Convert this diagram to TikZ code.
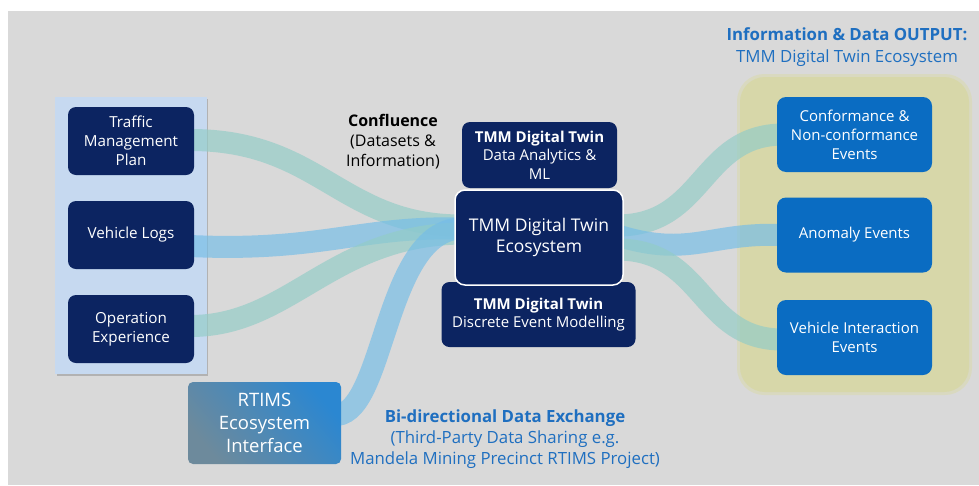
\documentclass[tikz,border=0pt]{standalone}
\usepackage{fontspec}
\setmainfont{Open Sans}
\usetikzlibrary{calc}
\definecolor{bggray}{HTML}{D9D9D9}
\definecolor{panelblue}{HTML}{C6D9F0}
\definecolor{navy}{HTML}{0C2461}
\definecolor{outblue}{HTML}{0A6CC2}
\definecolor{panelyel}{HTML}{D7D7A9}
\definecolor{panelyelsoft}{HTML}{D9D9C0}
\definecolor{titleblue}{HTML}{1F6FC0}
\definecolor{rtimsA}{HTML}{2B87D1}
\definecolor{rtimsB}{HTML}{6D8A9C}
\definecolor{flowteal}{HTML}{93CCC7}
\definecolor{flowblue}{HTML}{75BDE7}
\pgfdeclarelayer{panels}
\pgfdeclarelayer{flows}
\pgfsetlayers{panels,flows,main}
\begin{document}
\begin{tikzpicture}[x=1pt,y=-1pt,
  leftbox/.style={fill=navy, rounded corners=8pt, text=white, align=center, inner sep=0pt,
    minimum width=126pt, minimum height=68pt, font=\fontsize{15.2}{19}\selectfont},
  stackbox/.style={fill=navy, rounded corners=8pt, text=white, align=center, inner sep=0pt,
    font=\fontsize{15}{18.5}\selectfont},
  outbox/.style={fill=outblue, rounded corners=9pt, text=white, align=center, inner sep=0pt,
    minimum width=155pt, minimum height=75pt, font=\fontsize{15}{19}\selectfont},
  flowband/.style={line width=22pt, opacity=0.68},
  tealflow/.style={flowband, draw=flowteal},
  blueflow/.style={flowband, draw=flowblue}]
\useasboundingbox (0,0) rectangle (979,485);
\begin{pgfonlayer}{panels}
\fill[white] (0,0) rectangle (979,485);
\fill[bggray] (8,11) rectangle (979,485);
% left panel with slight shadow
\fill[black!30] (57,99) rectangle (208,376);
\fill[panelblue] (55,97) rectangle (207,374);
% right panel
\fill[panelyelsoft, rounded corners=27pt] (737,74) rectangle (972,395);
\fill[panelyel, rounded corners=25pt] (740,77) rectangle (969,392);
\end{pgfonlayer}

% left input boxes
\node[leftbox] (tmp) at (131,141) {Traffic\\Management\\Plan};
\node[leftbox] (vlog) at (131,235) {Vehicle Logs};
\node[leftbox] (opex) at (131,329) {Operation\\Experience};

% RTIMS
\node[rounded corners=5pt, top color=rtimsA, bottom color=rtimsB, shading angle=-50,
  text=white, align=center, inner sep=0pt, minimum width=153pt, minimum height=82pt,
  font=\fontsize{18.5}{23}\selectfont] (rtims) at (264.5,423) {RTIMS\\Ecosystem\\Interface};

% stacked digital twin boxes
\node[stackbox, minimum width=155pt, minimum height=66pt] (dam) at (539.5,155)
  {\textbf{TMM Digital Twin}\\Data Analytics \&\\ML};
\node[stackbox, minimum width=194pt, minimum height=65pt] (dem) at (538.5,314.5)
  {\textbf{TMM Digital Twin}\\Discrete Event Modelling};
\node[fill=navy, draw=white, line width=1.5pt, rounded corners=10pt, text=white, align=center,
  inner sep=0pt, minimum width=168pt, minimum height=95pt,
  font=\fontsize{17.5}{21.5}\selectfont] (eco) at (539,237.5) {TMM Digital Twin\\Ecosystem};

% output boxes
\node[outbox] (conf) at (854.5,134.5) {Conformance \&\\Non-conformance\\Events};
\node[outbox] (anom) at (854.5,235) {Anomaly Events};
\node[outbox] (vint) at (854.5,337.5) {Vehicle Interaction\\Events};

% labels
\node[align=center, inner sep=0pt, font=\fontsize{16}{20}\selectfont] (confl) at (393,142)
  {\textbf{Confluence}\\(Datasets \&\\Information)};
\node[align=center, inner sep=0pt, text=titleblue, font=\fontsize{16.8}{22}\selectfont] (outtitle) at (847,47)
  {\textbf{Information \& Data OUTPUT:}\\TMM Digital Twin Ecosystem};
\node[align=center, inner sep=0pt, text=titleblue, font=\fontsize{16.8}{21}\selectfont] (bidir) at (505,439)
  {\textbf{Bi-directional Data Exchange}\\(Third-Party Data Sharing e.g.\\Mandela Mining Precinct RTIMS Project)};

% flows
\begin{pgfonlayer}{flows}
\draw[tealflow] ($(tmp.east)+(-4,-1)$) .. controls (320,140) and (340,225) .. ($(eco.west)+(6,-12)$);
\draw[blueflow] ($(vlog.east)+(-4,11)$) .. controls (320,252) and (360,226) .. ($(eco.west)+(6,-9)$);
\draw[tealflow] ($(opex.east)+(-4,-3)$) .. controls (290,326) and (330,236) .. ($(eco.west)+(6,-4)$);
\draw[blueflow] ($(rtims.east)+(-4,-8)$) .. controls (385,410) and (385,232) .. ($(eco.west)+(6,-9)$);
\draw[tealflow] ($(eco.east)+(-6,-12)$) .. controls (705,225) and (700,135) .. ($(conf.west)+(6,0)$);
\draw[blueflow] ($(eco.east)+(-6,-2)$) .. controls (690,258) and (710,232) .. ($(anom.west)+(6,0)$);
\draw[tealflow] ($(eco.east)+(-6,12)$) .. controls (705,250) and (700,340) .. ($(vint.west)+(6,2)$);
\end{pgfonlayer}
\end{tikzpicture}
\end{document}
